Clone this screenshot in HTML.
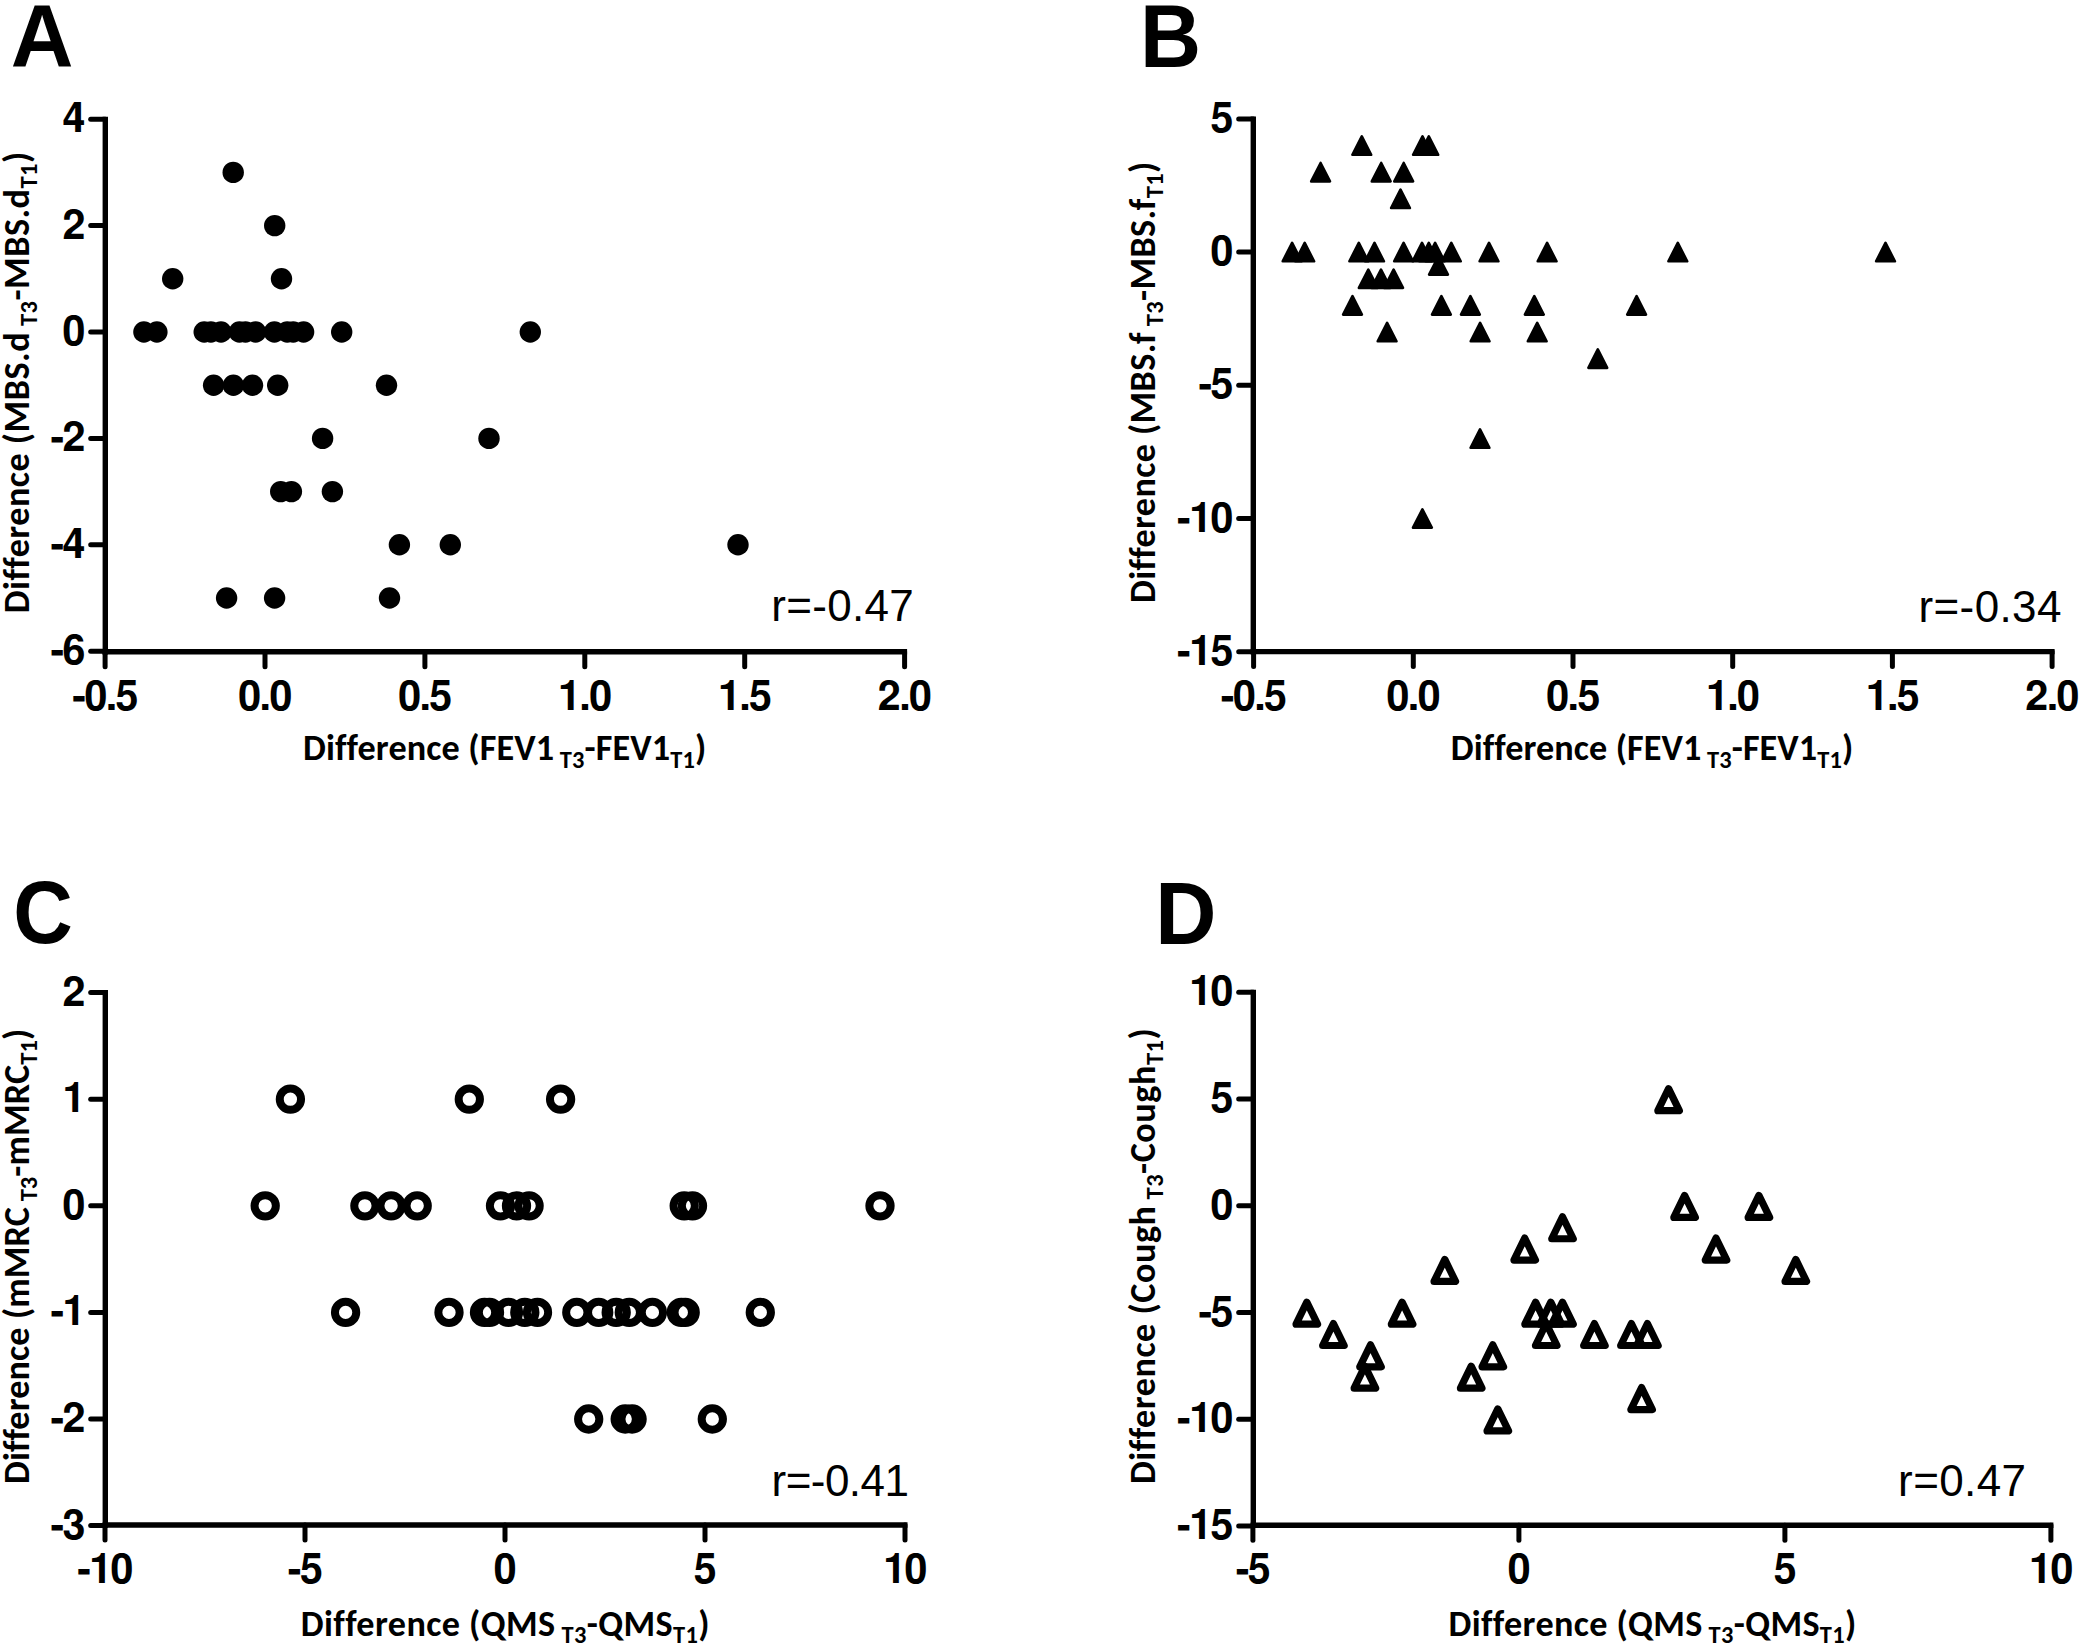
<!DOCTYPE html>
<html><head><meta charset="utf-8"><title>Figure</title>
<style>html,body{margin:0;padding:0;background:#fff;}svg{display:block;}</style>
</head><body>
<svg width="2083" height="1652" viewBox="0 0 2083 1652">
<rect width="2083" height="1652" fill="#fff"/>
<line x1="105.3" y1="116.7" x2="105.3" y2="654.5" stroke="#000" stroke-width="5.4"/>
<line x1="102.6" y1="651.8" x2="907.1" y2="651.8" stroke="#000" stroke-width="5.4"/>
<line x1="105.3" y1="119.2" x2="90.7" y2="119.2" stroke="#000" stroke-width="5.0" stroke-linecap="round"/>
<text x="83.8" y="132.2" text-anchor="end" font-size="41.2" letter-spacing="-1.6" font-family="TeX Gyre Heros, Liberation Sans, Arial, sans-serif" font-weight="bold">4</text>
<line x1="105.3" y1="225.6" x2="90.7" y2="225.6" stroke="#000" stroke-width="5.0" stroke-linecap="round"/>
<text x="83.8" y="238.6" text-anchor="end" font-size="41.2" letter-spacing="-1.6" font-family="TeX Gyre Heros, Liberation Sans, Arial, sans-serif" font-weight="bold">2</text>
<line x1="105.3" y1="332" x2="90.7" y2="332" stroke="#000" stroke-width="5.0" stroke-linecap="round"/>
<text x="83.8" y="345" text-anchor="end" font-size="41.2" letter-spacing="-1.6" font-family="TeX Gyre Heros, Liberation Sans, Arial, sans-serif" font-weight="bold">0</text>
<line x1="105.3" y1="438.4" x2="90.7" y2="438.4" stroke="#000" stroke-width="5.0" stroke-linecap="round"/>
<text x="83.8" y="451.4" text-anchor="end" font-size="41.2" letter-spacing="-1.6" font-family="TeX Gyre Heros, Liberation Sans, Arial, sans-serif" font-weight="bold">-2</text>
<line x1="105.3" y1="544.8" x2="90.7" y2="544.8" stroke="#000" stroke-width="5.0" stroke-linecap="round"/>
<text x="83.8" y="557.8" text-anchor="end" font-size="41.2" letter-spacing="-1.6" font-family="TeX Gyre Heros, Liberation Sans, Arial, sans-serif" font-weight="bold">-4</text>
<line x1="105.3" y1="651.2" x2="90.7" y2="651.2" stroke="#000" stroke-width="5.0" stroke-linecap="round"/>
<text x="83.8" y="664.2" text-anchor="end" font-size="41.2" letter-spacing="-1.6" font-family="TeX Gyre Heros, Liberation Sans, Arial, sans-serif" font-weight="bold">-6</text>
<line x1="105.1" y1="651.8" x2="105.1" y2="666.8" stroke="#000" stroke-width="5.0" stroke-linecap="round"/>
<text x="104.6" y="710" text-anchor="middle" font-size="41.2" letter-spacing="-1.6" font-family="TeX Gyre Heros, Liberation Sans, Arial, sans-serif" font-weight="bold">-0.5</text>
<line x1="265" y1="651.8" x2="265" y2="666.8" stroke="#000" stroke-width="5.0" stroke-linecap="round"/>
<text x="264.5" y="710" text-anchor="middle" font-size="41.2" letter-spacing="-1.6" font-family="TeX Gyre Heros, Liberation Sans, Arial, sans-serif" font-weight="bold">0.0</text>
<line x1="424.9" y1="651.8" x2="424.9" y2="666.8" stroke="#000" stroke-width="5.0" stroke-linecap="round"/>
<text x="424.4" y="710" text-anchor="middle" font-size="41.2" letter-spacing="-1.6" font-family="TeX Gyre Heros, Liberation Sans, Arial, sans-serif" font-weight="bold">0.5</text>
<line x1="584.8" y1="651.8" x2="584.8" y2="666.8" stroke="#000" stroke-width="5.0" stroke-linecap="round"/>
<text x="584.3" y="710" text-anchor="middle" font-size="41.2" letter-spacing="-1.6" font-family="TeX Gyre Heros, Liberation Sans, Arial, sans-serif" font-weight="bold">1.0</text>
<line x1="744.7" y1="651.8" x2="744.7" y2="666.8" stroke="#000" stroke-width="5.0" stroke-linecap="round"/>
<text x="744.2" y="710" text-anchor="middle" font-size="41.2" letter-spacing="-1.6" font-family="TeX Gyre Heros, Liberation Sans, Arial, sans-serif" font-weight="bold">1.5</text>
<line x1="904.6" y1="651.8" x2="904.6" y2="666.8" stroke="#000" stroke-width="5.0" stroke-linecap="round"/>
<text x="904.1" y="710" text-anchor="middle" font-size="41.2" letter-spacing="-1.6" font-family="TeX Gyre Heros, Liberation Sans, Arial, sans-serif" font-weight="bold">2.0</text>
<g fill="#000">
<circle cx="233.2" cy="172.4" r="10.7"/>
<circle cx="274.7" cy="225.6" r="10.7"/>
<circle cx="172.7" cy="278.8" r="10.7"/>
<circle cx="281.5" cy="278.8" r="10.7"/>
<circle cx="143.9" cy="332" r="10.7"/>
<circle cx="156.9" cy="332" r="10.7"/>
<circle cx="204.2" cy="332" r="10.7"/>
<circle cx="210.9" cy="332" r="10.7"/>
<circle cx="221" cy="332" r="10.7"/>
<circle cx="239.4" cy="332" r="10.7"/>
<circle cx="245.5" cy="332" r="10.7"/>
<circle cx="255.6" cy="332" r="10.7"/>
<circle cx="274.4" cy="332" r="10.7"/>
<circle cx="287.2" cy="332" r="10.7"/>
<circle cx="293.2" cy="332" r="10.7"/>
<circle cx="303.6" cy="332" r="10.7"/>
<circle cx="341.7" cy="332" r="10.7"/>
<circle cx="530.3" cy="332" r="10.7"/>
<circle cx="213.6" cy="385.2" r="10.7"/>
<circle cx="233.4" cy="385.2" r="10.7"/>
<circle cx="252.5" cy="385.2" r="10.7"/>
<circle cx="277.7" cy="385.2" r="10.7"/>
<circle cx="386.5" cy="385.2" r="10.7"/>
<circle cx="322.6" cy="438.4" r="10.7"/>
<circle cx="489" cy="438.4" r="10.7"/>
<circle cx="280.7" cy="491.6" r="10.7"/>
<circle cx="291.4" cy="491.6" r="10.7"/>
<circle cx="332.4" cy="491.6" r="10.7"/>
<circle cx="399.4" cy="544.8" r="10.7"/>
<circle cx="450.3" cy="544.8" r="10.7"/>
<circle cx="738" cy="544.8" r="10.7"/>
<circle cx="226.6" cy="598" r="10.7"/>
<circle cx="274.6" cy="598" r="10.7"/>
<circle cx="389.5" cy="598" r="10.7"/>
</g>
<line x1="1253.3" y1="116.4" x2="1253.3" y2="654.3" stroke="#000" stroke-width="5.4"/>
<line x1="1250.6" y1="651.6" x2="2054.6" y2="651.6" stroke="#000" stroke-width="5.4"/>
<line x1="1253.3" y1="118.9" x2="1238.7" y2="118.9" stroke="#000" stroke-width="5.0" stroke-linecap="round"/>
<text x="1231.8" y="131.9" text-anchor="end" font-size="41.2" letter-spacing="-1.6" font-family="TeX Gyre Heros, Liberation Sans, Arial, sans-serif" font-weight="bold">5</text>
<line x1="1253.3" y1="252.1" x2="1238.7" y2="252.1" stroke="#000" stroke-width="5.0" stroke-linecap="round"/>
<text x="1231.8" y="265.1" text-anchor="end" font-size="41.2" letter-spacing="-1.6" font-family="TeX Gyre Heros, Liberation Sans, Arial, sans-serif" font-weight="bold">0</text>
<line x1="1253.3" y1="385.3" x2="1238.7" y2="385.3" stroke="#000" stroke-width="5.0" stroke-linecap="round"/>
<text x="1231.8" y="398.3" text-anchor="end" font-size="41.2" letter-spacing="-1.6" font-family="TeX Gyre Heros, Liberation Sans, Arial, sans-serif" font-weight="bold">-5</text>
<line x1="1253.3" y1="518.5" x2="1238.7" y2="518.5" stroke="#000" stroke-width="5.0" stroke-linecap="round"/>
<text x="1231.8" y="531.5" text-anchor="end" font-size="41.2" letter-spacing="-1.6" font-family="TeX Gyre Heros, Liberation Sans, Arial, sans-serif" font-weight="bold">-10</text>
<line x1="1253.3" y1="651.7" x2="1238.7" y2="651.7" stroke="#000" stroke-width="5.0" stroke-linecap="round"/>
<text x="1231.8" y="664.7" text-anchor="end" font-size="41.2" letter-spacing="-1.6" font-family="TeX Gyre Heros, Liberation Sans, Arial, sans-serif" font-weight="bold">-15</text>
<line x1="1253.6" y1="651.6" x2="1253.6" y2="666.6" stroke="#000" stroke-width="5.0" stroke-linecap="round"/>
<text x="1253.1" y="709.8" text-anchor="middle" font-size="41.2" letter-spacing="-1.6" font-family="TeX Gyre Heros, Liberation Sans, Arial, sans-serif" font-weight="bold">-0.5</text>
<line x1="1413.3" y1="651.6" x2="1413.3" y2="666.6" stroke="#000" stroke-width="5.0" stroke-linecap="round"/>
<text x="1412.8" y="709.8" text-anchor="middle" font-size="41.2" letter-spacing="-1.6" font-family="TeX Gyre Heros, Liberation Sans, Arial, sans-serif" font-weight="bold">0.0</text>
<line x1="1573" y1="651.6" x2="1573" y2="666.6" stroke="#000" stroke-width="5.0" stroke-linecap="round"/>
<text x="1572.5" y="709.8" text-anchor="middle" font-size="41.2" letter-spacing="-1.6" font-family="TeX Gyre Heros, Liberation Sans, Arial, sans-serif" font-weight="bold">0.5</text>
<line x1="1732.7" y1="651.6" x2="1732.7" y2="666.6" stroke="#000" stroke-width="5.0" stroke-linecap="round"/>
<text x="1732.2" y="709.8" text-anchor="middle" font-size="41.2" letter-spacing="-1.6" font-family="TeX Gyre Heros, Liberation Sans, Arial, sans-serif" font-weight="bold">1.0</text>
<line x1="1892.4" y1="651.6" x2="1892.4" y2="666.6" stroke="#000" stroke-width="5.0" stroke-linecap="round"/>
<text x="1891.9" y="709.8" text-anchor="middle" font-size="41.2" letter-spacing="-1.6" font-family="TeX Gyre Heros, Liberation Sans, Arial, sans-serif" font-weight="bold">1.5</text>
<line x1="2052.1" y1="651.6" x2="2052.1" y2="666.6" stroke="#000" stroke-width="5.0" stroke-linecap="round"/>
<text x="2051.6" y="709.8" text-anchor="middle" font-size="41.2" letter-spacing="-1.6" font-family="TeX Gyre Heros, Liberation Sans, Arial, sans-serif" font-weight="bold">2.0</text>
<g fill="#000" stroke="#000" stroke-width="2.6" stroke-linejoin="round">
<polygon points="1361.8,136.34 1371.2,154.74 1352.4,154.74"/>
<polygon points="1422.5,136.34 1431.9,154.74 1413.1,154.74"/>
<polygon points="1428.8,136.34 1438.2,154.74 1419.4,154.74"/>
<polygon points="1320.6,162.98 1330,181.38 1311.2,181.38"/>
<polygon points="1381.2,162.98 1390.6,181.38 1371.8,181.38"/>
<polygon points="1403.7,162.98 1413.1,181.38 1394.3,181.38"/>
<polygon points="1400.5,189.62 1409.9,208.02 1391.1,208.02"/>
<polygon points="1292.1,242.9 1301.5,261.3 1282.7,261.3"/>
<polygon points="1304.7,242.9 1314.1,261.3 1295.3,261.3"/>
<polygon points="1358.8,242.9 1368.2,261.3 1349.4,261.3"/>
<polygon points="1374.5,242.9 1383.9,261.3 1365.1,261.3"/>
<polygon points="1403.6,242.9 1413,261.3 1394.2,261.3"/>
<polygon points="1422,242.9 1431.4,261.3 1412.6,261.3"/>
<polygon points="1428.8,242.9 1438.2,261.3 1419.4,261.3"/>
<polygon points="1435.1,242.9 1444.5,261.3 1425.7,261.3"/>
<polygon points="1451.3,242.9 1460.7,261.3 1441.9,261.3"/>
<polygon points="1489,242.9 1498.4,261.3 1479.6,261.3"/>
<polygon points="1547.1,242.9 1556.5,261.3 1537.7,261.3"/>
<polygon points="1677.8,242.9 1687.2,261.3 1668.4,261.3"/>
<polygon points="1885.5,242.9 1894.9,261.3 1876.1,261.3"/>
<polygon points="1438.5,256.22 1447.9,274.62 1429.1,274.62"/>
<polygon points="1368.3,269.54 1377.7,287.94 1358.9,287.94"/>
<polygon points="1381,269.54 1390.4,287.94 1371.6,287.94"/>
<polygon points="1393.6,269.54 1403,287.94 1384.2,287.94"/>
<polygon points="1352.5,296.18 1361.9,314.58 1343.1,314.58"/>
<polygon points="1441.4,296.18 1450.8,314.58 1432,314.58"/>
<polygon points="1470.4,296.18 1479.8,314.58 1461,314.58"/>
<polygon points="1534.3,296.18 1543.7,314.58 1524.9,314.58"/>
<polygon points="1636.6,296.18 1646,314.58 1627.2,314.58"/>
<polygon points="1387.1,322.82 1396.5,341.22 1377.7,341.22"/>
<polygon points="1480.1,322.82 1489.5,341.22 1470.7,341.22"/>
<polygon points="1537.2,322.82 1546.6,341.22 1527.8,341.22"/>
<polygon points="1597.8,349.46 1607.2,367.86 1588.4,367.86"/>
<polygon points="1480,429.38 1489.4,447.78 1470.6,447.78"/>
<polygon points="1422.4,509.3 1431.8,527.7 1413,527.7"/>
</g>
<line x1="105.3" y1="990.1" x2="105.3" y2="1527.7" stroke="#000" stroke-width="5.4"/>
<line x1="102.6" y1="1525" x2="907.5" y2="1525" stroke="#000" stroke-width="5.4"/>
<line x1="105.3" y1="992.6" x2="90.7" y2="992.6" stroke="#000" stroke-width="5.0" stroke-linecap="round"/>
<text x="83.8" y="1005.6" text-anchor="end" font-size="41.2" letter-spacing="-1.6" font-family="TeX Gyre Heros, Liberation Sans, Arial, sans-serif" font-weight="bold">2</text>
<line x1="105.3" y1="1099.2" x2="90.7" y2="1099.2" stroke="#000" stroke-width="5.0" stroke-linecap="round"/>
<text x="83.8" y="1112.2" text-anchor="end" font-size="41.2" letter-spacing="-1.6" font-family="TeX Gyre Heros, Liberation Sans, Arial, sans-serif" font-weight="bold">1</text>
<line x1="105.3" y1="1205.8" x2="90.7" y2="1205.8" stroke="#000" stroke-width="5.0" stroke-linecap="round"/>
<text x="83.8" y="1218.8" text-anchor="end" font-size="41.2" letter-spacing="-1.6" font-family="TeX Gyre Heros, Liberation Sans, Arial, sans-serif" font-weight="bold">0</text>
<line x1="105.3" y1="1312.4" x2="90.7" y2="1312.4" stroke="#000" stroke-width="5.0" stroke-linecap="round"/>
<text x="83.8" y="1325.4" text-anchor="end" font-size="41.2" letter-spacing="-1.6" font-family="TeX Gyre Heros, Liberation Sans, Arial, sans-serif" font-weight="bold">-1</text>
<line x1="105.3" y1="1419" x2="90.7" y2="1419" stroke="#000" stroke-width="5.0" stroke-linecap="round"/>
<text x="83.8" y="1432" text-anchor="end" font-size="41.2" letter-spacing="-1.6" font-family="TeX Gyre Heros, Liberation Sans, Arial, sans-serif" font-weight="bold">-2</text>
<line x1="105.3" y1="1525.6" x2="90.7" y2="1525.6" stroke="#000" stroke-width="5.0" stroke-linecap="round"/>
<text x="83.8" y="1538.6" text-anchor="end" font-size="41.2" letter-spacing="-1.6" font-family="TeX Gyre Heros, Liberation Sans, Arial, sans-serif" font-weight="bold">-3</text>
<line x1="105" y1="1525" x2="105" y2="1540" stroke="#000" stroke-width="5.0" stroke-linecap="round"/>
<text x="104.5" y="1583.2" text-anchor="middle" font-size="41.2" letter-spacing="-1.6" font-family="TeX Gyre Heros, Liberation Sans, Arial, sans-serif" font-weight="bold">-10</text>
<line x1="305" y1="1525" x2="305" y2="1540" stroke="#000" stroke-width="5.0" stroke-linecap="round"/>
<text x="304.5" y="1583.2" text-anchor="middle" font-size="41.2" letter-spacing="-1.6" font-family="TeX Gyre Heros, Liberation Sans, Arial, sans-serif" font-weight="bold">-5</text>
<line x1="505" y1="1525" x2="505" y2="1540" stroke="#000" stroke-width="5.0" stroke-linecap="round"/>
<text x="504.5" y="1583.2" text-anchor="middle" font-size="41.2" letter-spacing="-1.6" font-family="TeX Gyre Heros, Liberation Sans, Arial, sans-serif" font-weight="bold">0</text>
<line x1="705" y1="1525" x2="705" y2="1540" stroke="#000" stroke-width="5.0" stroke-linecap="round"/>
<text x="704.5" y="1583.2" text-anchor="middle" font-size="41.2" letter-spacing="-1.6" font-family="TeX Gyre Heros, Liberation Sans, Arial, sans-serif" font-weight="bold">5</text>
<line x1="905" y1="1525" x2="905" y2="1540" stroke="#000" stroke-width="5.0" stroke-linecap="round"/>
<text x="904.5" y="1583.2" text-anchor="middle" font-size="41.2" letter-spacing="-1.6" font-family="TeX Gyre Heros, Liberation Sans, Arial, sans-serif" font-weight="bold">10</text>
<g fill="none" stroke="#000" stroke-width="8.0">
<circle cx="290.4" cy="1099.2" r="10.65"/>
<circle cx="469.3" cy="1099.2" r="10.65"/>
<circle cx="560.6" cy="1099.2" r="10.65"/>
<circle cx="265.2" cy="1205.8" r="10.65"/>
<circle cx="364.9" cy="1205.8" r="10.65"/>
<circle cx="391.1" cy="1205.8" r="10.65"/>
<circle cx="417.2" cy="1205.8" r="10.65"/>
<circle cx="500.5" cy="1205.8" r="10.65"/>
<circle cx="516.5" cy="1205.8" r="10.65"/>
<circle cx="529.1" cy="1205.8" r="10.65"/>
<circle cx="684.2" cy="1205.8" r="10.65"/>
<circle cx="692.5" cy="1205.8" r="10.65"/>
<circle cx="880" cy="1205.8" r="10.65"/>
<circle cx="345.6" cy="1312.4" r="10.65"/>
<circle cx="449" cy="1312.4" r="10.65"/>
<circle cx="484.5" cy="1312.4" r="10.65"/>
<circle cx="489.5" cy="1312.4" r="10.65"/>
<circle cx="508.5" cy="1312.4" r="10.65"/>
<circle cx="524.8" cy="1312.4" r="10.65"/>
<circle cx="537.5" cy="1312.4" r="10.65"/>
<circle cx="576.8" cy="1312.4" r="10.65"/>
<circle cx="598.7" cy="1312.4" r="10.65"/>
<circle cx="616.2" cy="1312.4" r="10.65"/>
<circle cx="629.3" cy="1312.4" r="10.65"/>
<circle cx="652.4" cy="1312.4" r="10.65"/>
<circle cx="681.3" cy="1312.4" r="10.65"/>
<circle cx="685.2" cy="1312.4" r="10.65"/>
<circle cx="760.3" cy="1312.4" r="10.65"/>
<circle cx="588.7" cy="1419" r="10.65"/>
<circle cx="625.2" cy="1419" r="10.65"/>
<circle cx="632.1" cy="1419" r="10.65"/>
<circle cx="712.3" cy="1419" r="10.65"/>
</g>
<line x1="1253.3" y1="989.8" x2="1253.3" y2="1527.9" stroke="#000" stroke-width="5.4"/>
<line x1="1250.6" y1="1525.2" x2="2053.4" y2="1525.2" stroke="#000" stroke-width="5.4"/>
<line x1="1253.3" y1="992.3" x2="1238.7" y2="992.3" stroke="#000" stroke-width="5.0" stroke-linecap="round"/>
<text x="1231.8" y="1005.3" text-anchor="end" font-size="41.2" letter-spacing="-1.6" font-family="TeX Gyre Heros, Liberation Sans, Arial, sans-serif" font-weight="bold">10</text>
<line x1="1253.3" y1="1099.05" x2="1238.7" y2="1099.05" stroke="#000" stroke-width="5.0" stroke-linecap="round"/>
<text x="1231.8" y="1112.05" text-anchor="end" font-size="41.2" letter-spacing="-1.6" font-family="TeX Gyre Heros, Liberation Sans, Arial, sans-serif" font-weight="bold">5</text>
<line x1="1253.3" y1="1205.8" x2="1238.7" y2="1205.8" stroke="#000" stroke-width="5.0" stroke-linecap="round"/>
<text x="1231.8" y="1218.8" text-anchor="end" font-size="41.2" letter-spacing="-1.6" font-family="TeX Gyre Heros, Liberation Sans, Arial, sans-serif" font-weight="bold">0</text>
<line x1="1253.3" y1="1312.55" x2="1238.7" y2="1312.55" stroke="#000" stroke-width="5.0" stroke-linecap="round"/>
<text x="1231.8" y="1325.55" text-anchor="end" font-size="41.2" letter-spacing="-1.6" font-family="TeX Gyre Heros, Liberation Sans, Arial, sans-serif" font-weight="bold">-5</text>
<line x1="1253.3" y1="1419.3" x2="1238.7" y2="1419.3" stroke="#000" stroke-width="5.0" stroke-linecap="round"/>
<text x="1231.8" y="1432.3" text-anchor="end" font-size="41.2" letter-spacing="-1.6" font-family="TeX Gyre Heros, Liberation Sans, Arial, sans-serif" font-weight="bold">-10</text>
<line x1="1253.3" y1="1526.05" x2="1238.7" y2="1526.05" stroke="#000" stroke-width="5.0" stroke-linecap="round"/>
<text x="1231.8" y="1539.05" text-anchor="end" font-size="41.2" letter-spacing="-1.6" font-family="TeX Gyre Heros, Liberation Sans, Arial, sans-serif" font-weight="bold">-15</text>
<line x1="1252.9" y1="1525.2" x2="1252.9" y2="1540.2" stroke="#000" stroke-width="5.0" stroke-linecap="round"/>
<text x="1252.4" y="1583.4" text-anchor="middle" font-size="41.2" letter-spacing="-1.6" font-family="TeX Gyre Heros, Liberation Sans, Arial, sans-serif" font-weight="bold">-5</text>
<line x1="1518.9" y1="1525.2" x2="1518.9" y2="1540.2" stroke="#000" stroke-width="5.0" stroke-linecap="round"/>
<text x="1518.4" y="1583.4" text-anchor="middle" font-size="41.2" letter-spacing="-1.6" font-family="TeX Gyre Heros, Liberation Sans, Arial, sans-serif" font-weight="bold">0</text>
<line x1="1784.9" y1="1525.2" x2="1784.9" y2="1540.2" stroke="#000" stroke-width="5.0" stroke-linecap="round"/>
<text x="1784.4" y="1583.4" text-anchor="middle" font-size="41.2" letter-spacing="-1.6" font-family="TeX Gyre Heros, Liberation Sans, Arial, sans-serif" font-weight="bold">5</text>
<line x1="2050.9" y1="1525.2" x2="2050.9" y2="1540.2" stroke="#000" stroke-width="5.0" stroke-linecap="round"/>
<text x="2050.4" y="1583.4" text-anchor="middle" font-size="41.2" letter-spacing="-1.6" font-family="TeX Gyre Heros, Liberation Sans, Arial, sans-serif" font-weight="bold">10</text>
<g fill="none" stroke="#000" stroke-width="7.2" stroke-linejoin="round">
<polygon points="1306.8,1302.15 1317.55,1324.15 1296.05,1324.15"/>
<polygon points="1333.4,1323.5 1344.15,1345.5 1322.65,1345.5"/>
<polygon points="1370.5,1344.85 1381.25,1366.85 1359.75,1366.85"/>
<polygon points="1364.9,1366.2 1375.65,1388.2 1354.15,1388.2"/>
<polygon points="1402.1,1302.15 1412.85,1324.15 1391.35,1324.15"/>
<polygon points="1444.8,1259.45 1455.55,1281.45 1434.05,1281.45"/>
<polygon points="1471.2,1366.2 1481.95,1388.2 1460.45,1388.2"/>
<polygon points="1492.8,1344.85 1503.55,1366.85 1482.05,1366.85"/>
<polygon points="1497.8,1408.9 1508.55,1430.9 1487.05,1430.9"/>
<polygon points="1524.7,1238.1 1535.45,1260.1 1513.95,1260.1"/>
<polygon points="1535.6,1302.15 1546.35,1324.15 1524.85,1324.15"/>
<polygon points="1546.2,1323.5 1556.95,1345.5 1535.45,1345.5"/>
<polygon points="1550.8,1302.15 1561.55,1324.15 1540.05,1324.15"/>
<polygon points="1562.5,1302.15 1573.25,1324.15 1551.75,1324.15"/>
<polygon points="1562.5,1216.75 1573.25,1238.75 1551.75,1238.75"/>
<polygon points="1594.4,1323.5 1605.15,1345.5 1583.65,1345.5"/>
<polygon points="1631.4,1323.5 1642.15,1345.5 1620.65,1345.5"/>
<polygon points="1641.6,1387.55 1652.35,1409.55 1630.85,1409.55"/>
<polygon points="1647.4,1323.5 1658.15,1345.5 1636.65,1345.5"/>
<polygon points="1668.6,1088.65 1679.35,1110.65 1657.85,1110.65"/>
<polygon points="1684.6,1195.4 1695.35,1217.4 1673.85,1217.4"/>
<polygon points="1716,1238.1 1726.75,1260.1 1705.25,1260.1"/>
<polygon points="1758.9,1195.4 1769.65,1217.4 1748.15,1217.4"/>
<polygon points="1795.8,1259.45 1806.55,1281.45 1785.05,1281.45"/>
</g>
<text transform="translate(10.8,67.3) scale(0.967,1)" x="0" y="0" font-size="89.8" font-family="Liberation Sans, Arial, Helvetica, sans-serif" font-weight="bold">A</text>
<text transform="translate(1139.9,67.3) scale(0.955,1)" x="0" y="0" font-size="88.6" font-family="Liberation Sans, Arial, Helvetica, sans-serif" font-weight="bold">B</text>
<text transform="translate(13.2,942.9) scale(0.93,1)" x="0" y="0" font-size="88.7" font-family="Liberation Sans, Arial, Helvetica, sans-serif" font-weight="bold">C</text>
<text transform="translate(1155.2,943.9) scale(0.953,1)" x="0" y="0" font-size="88.9" font-family="Liberation Sans, Arial, Helvetica, sans-serif" font-weight="bold">D</text>
<text x="771.3" y="621" font-size="44" letter-spacing="0.28" textLength="142.6" lengthAdjust="spacingAndGlyphs" font-family="Liberation Sans, Arial, Helvetica, sans-serif">r=-0.47</text>
<text x="1918.5" y="621.5" font-size="44" letter-spacing="0.38" textLength="143.3" lengthAdjust="spacingAndGlyphs" font-family="Liberation Sans, Arial, Helvetica, sans-serif">r=-0.34</text>
<text x="771.6" y="1496" font-size="44" letter-spacing="-0.55" textLength="136.8" lengthAdjust="spacingAndGlyphs" font-family="Liberation Sans, Arial, Helvetica, sans-serif">r=-0.41</text>
<text x="1898.1" y="1495.7" font-size="44" letter-spacing="0.4" textLength="128.4" lengthAdjust="spacingAndGlyphs" font-family="Liberation Sans, Arial, Helvetica, sans-serif">r=0.47</text>
<text x="303" y="760.2" font-size="36.3" letter-spacing="0.131" textLength="403.5" lengthAdjust="spacingAndGlyphs" font-family="Carlito, Calibri, Liberation Sans, Arial, sans-serif" font-weight="bold">Difference (FEV1<tspan font-size="24.5" dy="7.7"> T3</tspan><tspan dy="-7.7">-FEV1</tspan><tspan font-size="24.5" dy="7.7">T1</tspan><tspan dy="-7.7">)</tspan></text>
<text x="1450.8" y="760.2" font-size="36.3" letter-spacing="0.092" textLength="402.5" lengthAdjust="spacingAndGlyphs" font-family="Carlito, Calibri, Liberation Sans, Arial, sans-serif" font-weight="bold">Difference (FEV1<tspan font-size="24.5" dy="7.7"> T3</tspan><tspan dy="-7.7">-FEV1</tspan><tspan font-size="24.5" dy="7.7">T1</tspan><tspan dy="-7.7">)</tspan></text>
<text x="300.8" y="1635.6" font-size="36.3" letter-spacing="0.400" textLength="409.1" lengthAdjust="spacingAndGlyphs" font-family="Carlito, Calibri, Liberation Sans, Arial, sans-serif" font-weight="bold">Difference (QMS<tspan font-size="24.5" dy="7.7"> T3</tspan><tspan dy="-7.7">-QMS</tspan><tspan font-size="24.5" dy="7.7">T1</tspan><tspan dy="-7.7">)</tspan></text>
<text x="1448.6" y="1635.6" font-size="36.3" letter-spacing="0.358" textLength="408.1" lengthAdjust="spacingAndGlyphs" font-family="Carlito, Calibri, Liberation Sans, Arial, sans-serif" font-weight="bold">Difference (QMS<tspan font-size="24.5" dy="7.7"> T3</tspan><tspan dy="-7.7">-QMS</tspan><tspan font-size="24.5" dy="7.7">T1</tspan><tspan dy="-7.7">)</tspan></text>
<text transform="translate(28.8,613.2) rotate(-90)" x="0" y="0" font-size="36.3" letter-spacing="0.468" textLength="461.9" lengthAdjust="spacingAndGlyphs" font-family="Carlito, Calibri, Liberation Sans, Arial, sans-serif" font-weight="bold">Difference (MBS.d<tspan font-size="24.5" dy="7.7"> T3</tspan><tspan dy="-7.7">-MBS.d</tspan><tspan font-size="24.5" dy="7.7">T1</tspan><tspan dy="-7.7">)</tspan></text>
<text transform="translate(1155.2,603) rotate(-90)" x="0" y="0" font-size="36.3" letter-spacing="0.368" textLength="441.6" lengthAdjust="spacingAndGlyphs" font-family="Carlito, Calibri, Liberation Sans, Arial, sans-serif" font-weight="bold">Difference (MBS.f<tspan font-size="24.5" dy="7.7"> T3</tspan><tspan dy="-7.7">-MBS.f</tspan><tspan font-size="24.5" dy="7.7">T1</tspan><tspan dy="-7.7">)</tspan></text>
<text transform="translate(29,1484) rotate(-90)" x="0" y="0" font-size="36.3" letter-spacing="0.092" textLength="455.3" lengthAdjust="spacingAndGlyphs" font-family="Carlito, Calibri, Liberation Sans, Arial, sans-serif" font-weight="bold">Difference (mMRC<tspan font-size="24.5" dy="7.7"> T3</tspan><tspan dy="-7.7">-mMRC</tspan><tspan font-size="24.5" dy="7.7">T1</tspan><tspan dy="-7.7">)</tspan></text>
<text transform="translate(1155.2,1484) rotate(-90)" x="0" y="0" font-size="36.3" letter-spacing="0.514" textLength="456.2" lengthAdjust="spacingAndGlyphs" font-family="Carlito, Calibri, Liberation Sans, Arial, sans-serif" font-weight="bold">Difference (Cough<tspan font-size="24.5" dy="7.7"> T3</tspan><tspan dy="-7.7">-Cough</tspan><tspan font-size="24.5" dy="7.7">T1</tspan><tspan dy="-7.7">)</tspan></text>
</svg>
</body></html>
